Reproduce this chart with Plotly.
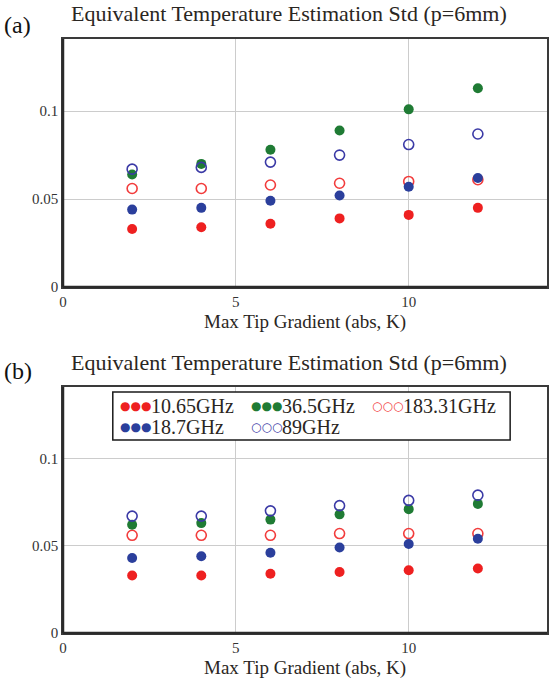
import plotly.graph_objects as go
from plotly.subplots import make_subplots

# Max tip gradient (abs, K)
x_grad = [2, 4, 6, 8, 10, 12]

# Panel (a): estimation std per channel
a_1065 = [0.033, 0.034, 0.036, 0.039, 0.041, 0.045]
a_187 = [0.044, 0.045, 0.049, 0.052, 0.057, 0.062]
a_365 = [0.064, 0.070, 0.078, 0.089, 0.101, 0.113]
a_89 = [0.067, 0.068, 0.071, 0.075, 0.081, 0.087]
a_18331 = [0.056, 0.056, 0.058, 0.059, 0.060, 0.061]

# Panel (b): estimation std per channel
b_1065 = [0.033, 0.033, 0.034, 0.035, 0.036, 0.037]
b_187 = [0.043, 0.044, 0.046, 0.049, 0.051, 0.054]
b_365 = [0.062, 0.063, 0.065, 0.068, 0.071, 0.074]
b_89 = [0.067, 0.067, 0.070, 0.073, 0.076, 0.079]
b_18331 = [0.056, 0.056, 0.056, 0.057, 0.057, 0.057]

channel_names = ["10.65GHz", "18.7GHz", "36.5GHz", "89GHz", "183.31GHz"]
x_ticks = [0, 5, 10]
y_ticks = [0, 0.05, 0.1]
panel_title = "Equivalent Temperature Estimation Std (p=6mm)"
x_title = "Max Tip Gradient (abs, K)"

RED = "#ee2020"
BLUE = "#2b3f9c"
GREEN = "#1f7b34"
OBLUE = "#3b3aa6"
ORED = "#f23c3c"

styles = {
    "10.65GHz": dict(color=RED, open=False),
    "18.7GHz": dict(color=BLUE, open=False),
    "36.5GHz": dict(color=GREEN, open=False),
    "89GHz": dict(color=OBLUE, open=True),
    "183.31GHz": dict(color=ORED, open=True),
}

SERIF = "Liberation Serif"
W, H = 550, 683
ML, MR, MT, MB = 63, 1, 39, 50


def px(x):
    """Pixel column -> paper x."""
    return (x - ML) / (W - ML - MR)


def py(y):
    """Pixel row (from top) -> paper y."""
    return (H - MB - y) / (H - MT - MB)


fig = make_subplots(rows=2, cols=1, vertical_spacing=0.1683)

panels = [
    (1, dict(zip(channel_names, [a_1065, a_187, a_365, a_89, a_18331]))),
    (2, dict(zip(channel_names, [b_1065, b_187, b_365, b_89, b_18331]))),
]
draw_order = ["10.65GHz", "183.31GHz", "18.7GHz", "36.5GHz", "89GHz"]

for row, data in panels:
    for name in draw_order:
        st = styles[name]
        if st["open"]:
            marker = dict(symbol="circle-open", size=10, color=st["color"],
                          line=dict(width=1.6, color=st["color"]))
        else:
            marker = dict(symbol="circle", size=10, color=st["color"],
                          line=dict(width=0))
        fig.add_trace(go.Scatter(x=x_grad, y=data[name], mode="markers",
                                 name=name, marker=marker, showlegend=False),
                      row=row, col=1)

axis_common = dict(showline=True, linecolor="#3a3a3a", linewidth=1.5, mirror=True,
                   showgrid=True, gridcolor="#cccccc", gridwidth=1.2,
                   zeroline=False, ticks="",
                   tickfont=dict(family=SERIF, size=15, color="#333333"))

for row in (1, 2):
    fig.update_xaxes(range=[0, 14], tickvals=x_ticks, ticktext=[str(v) for v in x_ticks],
                     row=row, col=1, **axis_common)
    fig.update_yaxes(range=[0, 0.141], tickvals=y_ticks,
                     ticktext=["0", "0.05", "0.1"], row=row, col=1, **axis_common)

fig.update_yaxes(domain=[py(287), 1.0], row=1, col=1)
fig.update_yaxes(domain=[0.0, py(387)], row=2, col=1)

# Heavier left and bottom axis lines
for xr, yr in (("x", "y"), ("x2", "y2")):
    fig.add_shape(type="line", xref=f"{xr} domain", yref=f"{yr} domain",
                  x0=0, x1=0, y0=0, y1=1, line=dict(color="#2a2a2a", width=2.5))
    fig.add_shape(type="line", xref=f"{xr} domain", yref=f"{yr} domain",
                  x0=0, x1=1, y0=0, y1=0, line=dict(color="#2a2a2a", width=2.5))

annotations = []
# Panel titles and labels
for lab, ty, ly in (("(a)", 13, 25), ("(b)", 362, 371)):
    annotations.append(dict(text=panel_title, x=px(290), y=py(ty),
                            xref="paper", yref="paper", showarrow=False,
                            xanchor="center", yanchor="middle",
                            font=dict(family=SERIF, size=22, color="#2a2622")))
    annotations.append(dict(text=lab, x=px(2), y=py(ly),
                            xref="paper", yref="paper", showarrow=False,
                            xanchor="left", yanchor="middle",
                            font=dict(family=SERIF, size=24, color="#111111")))
for ty in (322, 668):
    annotations.append(dict(text=x_title, x=px(306), y=py(ty),
                            xref="paper", yref="paper", showarrow=False,
                            xanchor="center", yanchor="middle",
                            font=dict(family=SERIF, size=19, color="#2a2622")))

# Legend for panel (b)
legend_pos = {
    "10.65GHz": (118, 406), "36.5GHz": (250, 406), "183.31GHz": (371, 406),
    "18.7GHz": (118, 427), "89GHz": (250, 427),
}
fig.add_shape(type="rect", xref="paper", yref="paper",
              x0=px(113), x1=px(512), y0=py(440), y1=py(392),
              line=dict(color="#1a1a1a", width=1.5), fillcolor="white")
for name, (lx, ly) in legend_pos.items():
    st = styles[name]
    sym = "○○○" if st["open"] else "●●●"
    annotations.append(dict(text=sym, x=px(lx), y=py(ly),
                            xref="paper", yref="paper", showarrow=False,
                            xanchor="left", yanchor="middle",
                            font=dict(family="DejaVu Sans", size=12, color=st["color"])))
    annotations.append(dict(text=name, x=px(lx + 31), y=py(ly),
                            xref="paper", yref="paper", showarrow=False,
                            xanchor="left", yanchor="middle",
                            font=dict(family=SERIF, size=20, color="#2a2622")))

fig.update_layout(width=W, height=H, margin=dict(l=ML, r=MR, t=MT, b=MB),
                  paper_bgcolor="white", plot_bgcolor="white",
                  annotations=annotations, showlegend=False)

fig.write_html("out.html")
